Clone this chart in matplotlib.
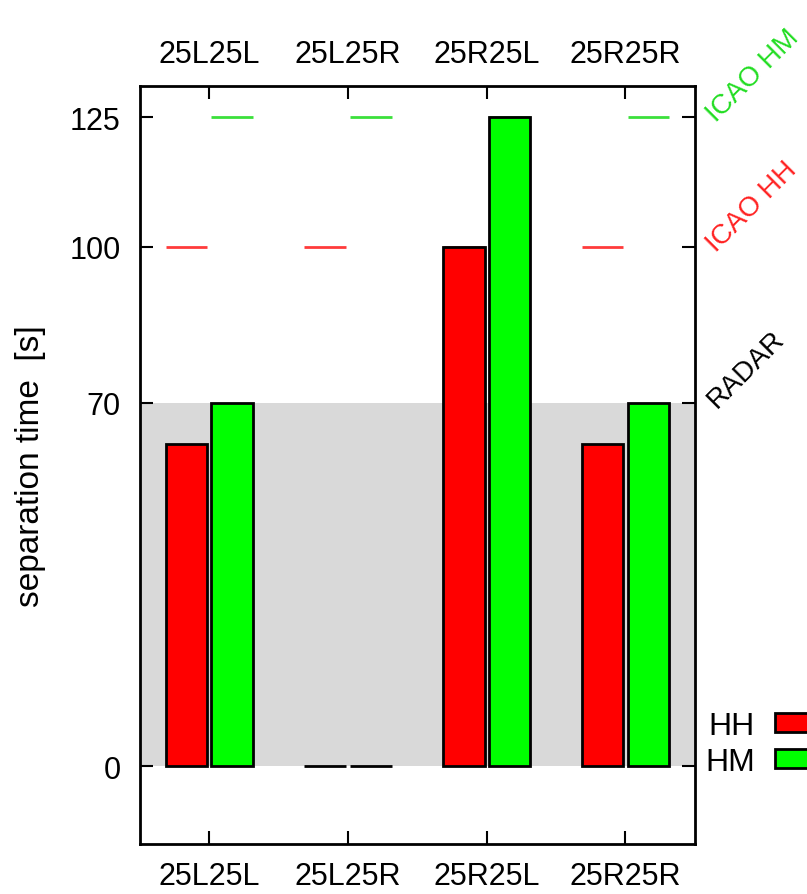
import matplotlib
matplotlib.use("Agg")
import matplotlib.pyplot as plt
import numpy as np

# data
categories = ["25L25L", "25L25R", "25R25L", "25R25R"]
hh = [62, 0, 100, 62]
hm = [70, 0, 125, 70]
icao_hh = [100, 100, 100, 100]
icao_hm = [125, 125, 125, 125]
radar = 70
yticks = [0, 70, 100, 125]

plt.rcParams["font.family"] = ["Liberation Sans", "DejaVu Sans"]

fig = plt.figure(figsize=(8.07, 8.95), dpi=100)
ax = fig.add_axes([0.1735, 0.0559, 0.6875, 0.8469])

x = np.arange(len(categories))
w = 0.3
off = 0.165

# gray radar band
ax.axhspan(0, radar, color="#d9d9d9", zorder=0, lw=0)

# ICAO dashes
ax.hlines(icao_hh, x - off - w / 2, x - off + w / 2, color="#ff3b3b", lw=2, zorder=1)
ax.hlines(icao_hm, x + off - w / 2, x + off + w / 2, color="#3be03b", lw=2, zorder=1)

ax.bar(x - off, hh, w, color="#ff0000", edgecolor="black", lw=2, label="HH", zorder=2)
ax.bar(x + off, hm, w, color="#00ff00", edgecolor="black", lw=2, label="HM", zorder=2)

ax.set_xlim(-0.5, 3.5)
ax.set_ylim(-15, 131)
ax.set_xticks(x)
ax.set_xticklabels(categories)
ax.set_yticks(yticks)
ax.tick_params(direction="in", top=True, right=True, labeltop=True,
               labelsize=22, length=9.5, width=1.5)
ax.tick_params(axis="x", pad=12)
ax.tick_params(axis="y", pad=14)
for s in ax.spines.values():
    s.set_linewidth(2)

ax.set_ylabel("separation time  [s]", fontsize=24)
ax.yaxis.set_label_coords(-0.17, 0.5)

# right side rotated labels
tr = ax.get_yaxis_transform()
ax.text(1.03, icao_hm[0], "ICAO HM", color="#22dd22", rotation=45, fontsize=20,
        transform=tr, ha="left", va="center", rotation_mode="anchor", clip_on=False)
ax.text(1.03, icao_hh[0], "ICAO HH", color="#ff2222", rotation=45, fontsize=20,
        transform=tr, ha="left", va="center", rotation_mode="anchor", clip_on=False)
ax.text(1.03, radar, "RADAR", color="black", rotation=45, fontsize=20,
        transform=tr, ha="left", va="center", rotation_mode="anchor", clip_on=False)

leg = ax.legend(loc="upper left", bbox_to_anchor=(0.978, 0.2055), markerfirst=False,
                frameon=False, fontsize=23, handlelength=1.3, handleheight=0.56,
                labelspacing=0.2, handletextpad=0.65, borderaxespad=0.3)

fig.savefig("out.png", dpi=100)
